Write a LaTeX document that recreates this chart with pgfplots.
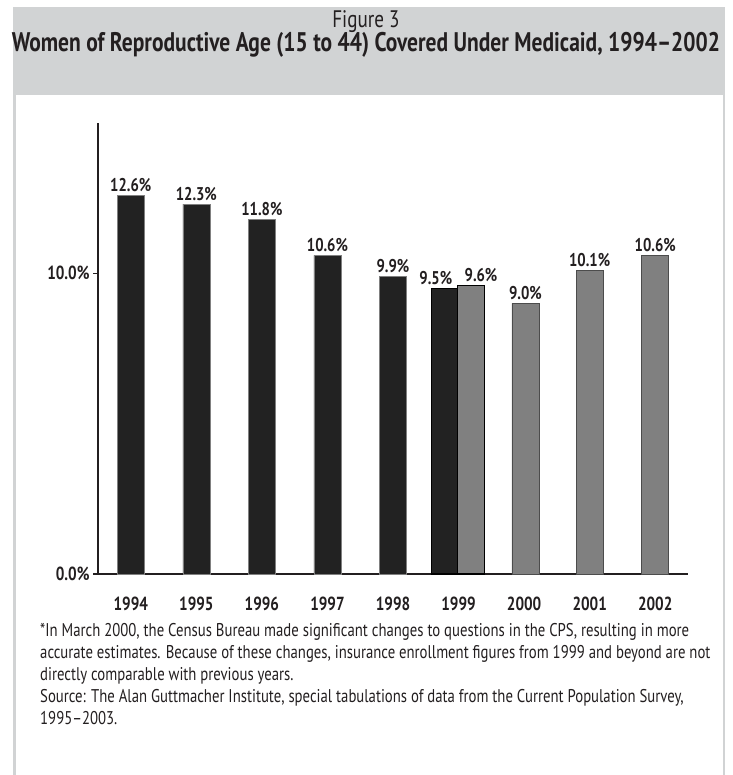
\documentclass[border=0pt]{standalone}
\usepackage{pgfplots}
\pgfplotsset{compat=1.18}
\usepackage{fontspec}
\setmainfont{PT Sans}[FakeStretch=0.8]
\definecolor{band}{HTML}{D1D3D4}
\definecolor{ink}{HTML}{231F20}
\definecolor{dark}{HTML}{222222}
\definecolor{mid}{HTML}{808080}
\begin{document}
\begin{tikzpicture}[x=1bp,y=1bp]
\useasboundingbox (0,0) rectangle (733,775);
\fill[white] (0,0) rectangle (733,775);
\fill[band] (13,0) rectangle (725,768);
\fill[white] (16,0) rectangle (723,680);
\node[text=ink,font=\fontsize{24}{24}\selectfont] at (366,753) {Figure 3};
\node[text=ink,font=\bfseries\fontsize{27}{27}\selectfont] at (366,730)
  {Women of Reproductive Age (15 to 44) Covered Under Medicaid, 1994--2002};

\begin{axis}[
  at={(98bp,201bp)}, anchor=origin,
  scale only axis, width=590bp, height=451bp,
  xmin=0, xmax=9, ymin=0, ymax=15,
  clip=false,
  axis x line*=bottom, axis y line*=left,
  axis line style={ink, line width=1.6bp},
  xtick={0.5,1.5,...,8.5},
  xticklabels={1994,1995,1996,1997,1998,1999,2000,2001,2002},
  x tick label style={yshift=-14bp},
  xtick style={draw=none},
  extra x ticks={1,2,...,9},
  extra x tick labels={},
  extra x tick style={tick align=outside, major tick length=12bp,
    tick style={ink, line width=1.6bp}},
  ytick={0,10},
  yticklabels={0.0\%,10.0\%},
  ytick align=outside, major tick length=5bp,
  ytick style={ink, line width=1.6bp},
  ticklabel style={text=ink, font=\bfseries\fontsize{19}{19}\selectfont},
  every node near coord/.style={text=ink, font=\bfseries\fontsize{18.5}{18.5}\selectfont, anchor=south},
  nodes near coords={\pgfmathprintnumber[fixed,fixed zerofill,precision=1]{\pgfplotspointmeta}\%},
  /pgf/number format/assume math mode=true,
  ybar, bar width=27bp, bar shift=0pt,
]
% 1994-1998, old CPS
\addplot[fill=dark, draw=mid, line width=0.6bp] coordinates
  {(0.5,12.6) (1.5,12.3) (2.5,11.8) (3.5,10.6) (4.5,9.9)};
% 1999, both series
\addplot[fill=dark, draw=black, line width=1.4bp,
  every node near coord/.append style={xshift=-9bp}] coordinates {(5.29,9.5)};
\addplot[fill=mid, draw=black, line width=1.4bp,
  every node near coord/.append style={xshift=10bp}] coordinates {(5.69,9.6)};
% 2000-2002, new CPS
\addplot[fill=mid, draw=black!70, line width=0.8bp] coordinates
  {(6.52,9.0) (7.5,10.1) (8.5,10.6)};
\end{axis}

\node[anchor=north west, align=left, text=ink,
  font=\fontsize{18.5}{22}\selectfont, inner sep=0pt] at (40,152) {%
*In March 2000, the Census Bureau made significant changes to questions in the CPS, resulting in more\\
accurate estimates. Because of these changes, insurance enrollment figures from 1999 and beyond are not\\
directly comparable with previous years.\\
Source: The Alan Guttmacher Institute, special tabulations of data from the Current Population Survey,\\
1995--2003.};
\end{tikzpicture}
\end{document}
